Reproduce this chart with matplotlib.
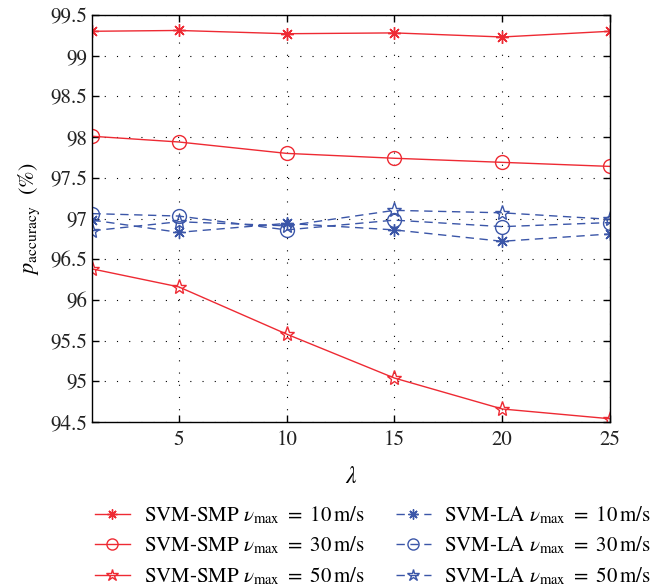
import numpy as np
import matplotlib
matplotlib.use("Agg")
import matplotlib.pyplot as plt

plt.rcParams['font.family'] = ['STIXGeneral', 'DejaVu Serif']
plt.rcParams['mathtext.fontset'] = 'stix'

# --- data ---
lam = [1, 5, 10, 15, 20, 25]

smp_10 = [99.30, 99.31, 99.27, 99.28, 99.23, 99.30]
smp_30 = [98.01, 97.94, 97.80, 97.74, 97.69, 97.64]
smp_50 = [96.38, 96.16, 95.58, 95.04, 94.66, 94.54]

la_10 = [96.98, 96.83, 96.94, 96.86, 96.72, 96.81]
la_30 = [97.06, 97.03, 96.86, 96.98, 96.90, 96.95]
la_50 = [96.85, 96.96, 96.91, 97.10, 97.07, 96.99]

x_ticks = [5, 10, 15, 20, 25]
y_ticks = [94.5, 95, 95.5, 96, 96.5, 97, 97.5, 98, 98.5, 99, 99.5]
y_ticklabels = ['94.5', '95', '95.5', '96', '96.5', '97', '97.5', '98', '98.5', '99', '99.5']

red = '#ee2a33'
blue = '#3b56a8'
asterisk = (8, 2, 0)

fig = plt.figure(figsize=(6.62, 5.88), dpi=100)
ax = fig.add_axes([0.1397, 0.2823, 0.9215 - 0.1397, 0.9745 - 0.2823])

kw = dict(linewidth=1.0, markeredgewidth=1.0)
ast_size = 9
sym_size = 10
ax.plot(lam, smp_10, color=red, marker=asterisk, markersize=ast_size, linestyle='-',
        label=r'SVM-SMP $\nu_{\mathrm{max}}$ $=$ 10$\,$m/s', **kw)
ax.plot(lam, smp_30, color=red, marker='o', markersize=sym_size, fillstyle='none', linestyle='-',
        label=r'SVM-SMP $\nu_{\mathrm{max}}$ $=$ 30$\,$m/s', **kw)
ax.plot(lam, smp_50, color=red, marker='*', markersize=sym_size + 1, fillstyle='none', linestyle='-',
        label=r'SVM-SMP $\nu_{\mathrm{max}}$ $=$ 50$\,$m/s', **kw)

dash = (0, (6, 4))
ax.plot(lam, la_10, color=blue, marker=asterisk, markersize=ast_size, linestyle=dash,
        label=r'SVM-LA $\nu_{\mathrm{max}}$ $=$ 10$\,$m/s', **kw)
ax.plot(lam, la_30, color=blue, marker='o', markersize=sym_size, fillstyle='none', linestyle=dash,
        label=r'SVM-LA $\nu_{\mathrm{max}}$ $=$ 30$\,$m/s', **kw)
ax.plot(lam, la_50, color=blue, marker='*', markersize=sym_size + 1, fillstyle='none', linestyle=dash,
        label=r'SVM-LA $\nu_{\mathrm{max}}$ $=$ 50$\,$m/s', **kw)

ax.set_xlim(1, 25)
ax.set_ylim(94.5, 99.5)
ax.set_xticks(x_ticks)
ax.set_yticks(y_ticks)
ax.set_yticklabels(y_ticklabels)
ax.tick_params(direction='in', length=5, width=1.0, labelsize=15,
               top=True, right=True, colors='black', labelcolor='#222222')
ax.tick_params(axis='x', pad=6)
ax.grid(True, color='black', linestyle=(0, (1, 10)), linewidth=0.8)
for s in ax.spines.values():
    s.set_linewidth(1.0)

ax.set_xlabel(r'$\lambda$', fontsize=17, labelpad=12)
ax.set_ylabel(r'$p_{\mathrm{accuracy}}$  (%)', fontsize=16, labelpad=6)

leg = fig.legend(loc='upper left', bbox_to_anchor=(0.143, 0.142), ncol=2,
                 frameon=False, fontsize=15, handlelength=1.7,
                 columnspacing=1.5, handletextpad=0.65, labelspacing=0.42,
                 borderaxespad=0, borderpad=0, markerscale=0.8)

fig.savefig('out.png', dpi=100)
